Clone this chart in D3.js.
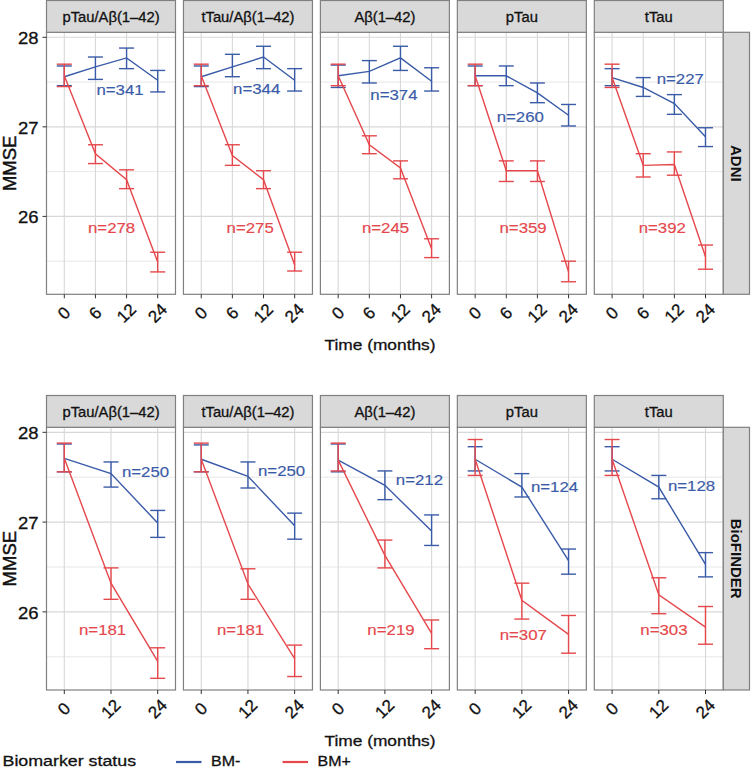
<!DOCTYPE html>
<html>
<head>
<meta charset="utf-8">
<script src="https://cdn.jsdelivr.net/npm/d3@7"></script>
<style>
  html, body { margin: 0; padding: 0; background: #fff; }
  svg { display: block; font-family: "Liberation Sans", Arial, Helvetica, sans-serif; }
</style>
</head>
<body>
<svg id="chart" width="751" height="776"></svg>
<script>
// ---------------- DATA ----------------
const biomarkers = ["pTau/Aβ(1–42)", "tTau/Aβ(1–42)", "Aβ(1–42)", "pTau", "tTau"];
const cohorts = ["ADNI", "BioFINDER"];
const timesADNI = ["0", "6", "12", "24"];
const timesBF = ["0", "12", "24"];
const statusLabels = ["BM-", "BM+"];
const yTicks = [26, 27, 28];
const yMinor = [25.5, 26.5, 27.5];

// ADNI, BM- (mean, lower, upper) per biomarker
const adniNegMean = [[27.56,27.67,27.77,27.52],[27.56,27.67,27.78,27.52],[27.57,27.62,27.77,27.51],[27.57,27.57,27.38,27.13],[27.55,27.44,27.26,26.89]];
const adniNegLo   = [[27.46,27.53,27.65,27.39],[27.45,27.56,27.65,27.40],[27.44,27.49,27.63,27.40],[27.46,27.46,27.27,27.01],[27.46,27.34,27.14,26.78]];
const adniNegHi   = [[27.68,27.78,27.88,27.63],[27.68,27.81,27.90,27.65],[27.69,27.74,27.90,27.66],[27.68,27.68,27.49,27.25],[27.65,27.55,27.36,26.99]];
// ADNI, BM+
const adniPosMean = [[27.57,26.70,26.41,25.49],[27.57,26.68,26.41,25.46],[27.57,26.80,26.54,25.64],[27.57,26.51,26.51,25.38],[27.55,26.57,26.58,25.55]];
const adniPosLo   = [[27.45,26.59,26.31,25.38],[27.46,26.57,26.31,25.39],[27.46,26.70,26.42,25.54],[27.46,26.39,26.39,25.27],[27.44,26.44,26.46,25.41]];
const adniPosHi   = [[27.70,26.80,26.52,25.60],[27.70,26.80,26.51,25.60],[27.70,26.90,26.62,25.75],[27.70,26.62,26.62,25.50],[27.70,26.70,26.72,25.68]];
// BioFINDER, BM-
const bfNegMean = [[27.71,27.54,26.99],[27.70,27.51,26.96],[27.69,27.41,26.90],[27.70,27.39,26.57],[27.70,27.39,26.53]];
const bfNegLo   = [[27.56,27.39,26.83],[27.56,27.38,26.81],[27.56,27.25,26.74],[27.57,27.28,26.42],[27.57,27.26,26.39]];
const bfNegHi   = [[27.87,27.67,27.13],[27.86,27.67,27.10],[27.87,27.57,27.08],[27.84,27.54,26.70],[27.84,27.52,26.66]];
// BioFINDER, BM+
const bfPosMean = [[27.71,26.32,25.45],[27.70,26.31,25.48],[27.69,26.63,25.76],[27.70,26.13,25.75],[27.70,26.19,25.83]];
const bfPosLo   = [[27.56,26.14,25.26],[27.56,26.14,25.28],[27.57,26.49,25.59],[27.52,25.92,25.54],[27.52,25.98,25.64]];
const bfPosHi   = [[27.88,26.49,25.60],[27.88,26.48,25.63],[27.88,26.80,25.91],[27.92,26.32,25.96],[27.92,26.38,26.06]];

// Sample sizes
const adniNegN = [341, 344, 374, 260, 227];
const adniPosN = [278, 275, 245, 359, 392];
const bfNegN = [250, 250, 212, 124, 128];
const bfPosN = [181, 181, 219, 307, 303];
// Annotation anchors (time index, MMSE value)
const adniNegLab = [[1.79,27.41],[1.78,27.42],[1.79,27.36],[1.45,27.11],[2.19,27.54]];
const adniPosLab = [[1.52,25.87],[1.57,25.87],[1.52,25.87],[1.54,25.87],[1.61,25.87]];
const bfNegLab = [[1.74,27.56],[1.72,27.57],[1.74,27.47],[1.70,27.39],[1.70,27.40]];
const bfPosLab = [[0.82,25.80],[0.84,25.80],[1.13,25.80],[1.03,25.74],[1.11,25.80]];

// ---------------- STYLE / LAYOUT ----------------
const colors = { neg: "#3a5ba8", pos: "#e5484c" };
const textCol = "#111111";
const borderCol = "#808080";
const L = { left0: 46.5, step: 136.95, pw: 129, pad: 17.8,
            rows: [{ stripTop: 0.5, top: 32.3, bottom: 294.3 }, { stripTop: 395.5, top: 427.3, bottom: 690 }],
            rStripX: 723.3, rStripW: 26.2 };

const svg = d3.select("#chart");

function txt(g, str, x, y, o) {
  o = o || {};
  const sx = o.sx || 1, rot = o.rot || 0;
  const fill = o.fill || textCol;
  return g.append("text")
    .attr("transform", `translate(${x},${y}) rotate(${rot}) scale(${sx},1)`)
    .attr("text-anchor", o.anchor || "middle")
    .attr("dominant-baseline", o.baseline || "central")
    .attr("font-size", o.size || 14)
    .attr("font-weight", o.weight || "normal")
    .attr("fill", fill)
    .attr("stroke", fill)
    .attr("stroke-width", o.sw == null ? 0.3 : o.sw)
    .text(str);
}

const rowData = [
  { cohort: cohorts[0], times: timesADNI,
    series: [ { key: "neg", mean: adniNegMean, lo: adniNegLo, hi: adniNegHi, n: adniNegN, lab: adniNegLab },
              { key: "pos", mean: adniPosMean, lo: adniPosLo, hi: adniPosHi, n: adniPosN, lab: adniPosLab } ] },
  { cohort: cohorts[1], times: timesBF,
    series: [ { key: "neg", mean: bfNegMean, lo: bfNegLo, hi: bfNegHi, n: bfNegN, lab: bfNegLab },
              { key: "pos", mean: bfPosMean, lo: bfPosLo, hi: bfPosHi, n: bfPosN, lab: bfPosLab } ] }
];

rowData.forEach((row, ri) => {
  const R = L.rows[ri];
  const y = d3.scaleLinear().domain([25.13, 28.056]).range([R.bottom, R.top]);

  biomarkers.forEach((bm, pi) => {
    const x0 = L.left0 + pi * L.step, x1 = x0 + L.pw;
    const x = d3.scalePoint().domain(row.times).range([x0 + L.pad, x1 - L.pad]);
    const xi = d3.scaleLinear().domain([0, row.times.length - 1]).range([x0 + L.pad, x1 - L.pad]);
    const g = svg.append("g");

    g.append("rect").attr("x", x0).attr("y", R.top).attr("width", L.pw).attr("height", R.bottom - R.top).attr("fill", "#fff");
    g.selectAll(".ymin").data(yMinor).join("line")
      .attr("x1", x0).attr("x2", x1).attr("y1", d => y(d)).attr("y2", d => y(d))
      .attr("stroke", "#e2e2e2").attr("stroke-width", 0.8);
    g.selectAll(".ymaj").data(yTicks).join("line")
      .attr("x1", x0).attr("x2", x1).attr("y1", d => y(d)).attr("y2", d => y(d))
      .attr("stroke", "#d8d8d8").attr("stroke-width", 1.1);
    g.selectAll(".xmaj").data(row.times).join("line")
      .attr("x1", d => x(d)).attr("x2", d => x(d)).attr("y1", R.top).attr("y2", R.bottom)
      .attr("stroke", "#d8d8d8").attr("stroke-width", 1.1);

    row.series.forEach(s => {
      const col = colors[s.key];
      const pts = row.times.map((t, i) => ({ t, m: s.mean[pi][i], lo: s.lo[pi][i], hi: s.hi[pi][i] }));
      g.append("path").datum(pts)
        .attr("d", d3.line().x(d => x(d.t)).y(d => y(d.m)))
        .attr("fill", "none").attr("stroke", col).attr("stroke-width", 1.4);
      const eb = g.append("g").attr("stroke", col).attr("stroke-width", 1.4).attr("fill", "none");
      eb.selectAll(".v").data(pts).join("line")
        .attr("x1", d => x(d.t)).attr("x2", d => x(d.t)).attr("y1", d => y(d.lo)).attr("y2", d => y(d.hi));
      eb.selectAll(".c1").data(pts).join("line")
        .attr("x1", d => x(d.t) - 7.5).attr("x2", d => x(d.t) + 7.5).attr("y1", d => y(d.lo)).attr("y2", d => y(d.lo));
      eb.selectAll(".c2").data(pts).join("line")
        .attr("x1", d => x(d.t) - 7.5).attr("x2", d => x(d.t) + 7.5).attr("y1", d => y(d.hi)).attr("y2", d => y(d.hi));
      const lab = s.lab[pi];
      txt(g, "n=" + s.n[pi], xi(lab[0]), y(lab[1]), { size: 14.5, sx: 1.16, fill: col, sw: 0.15 });
    });

    g.append("rect").attr("x", x0).attr("y", R.top).attr("width", L.pw).attr("height", R.bottom - R.top)
      .attr("fill", "none").attr("stroke", borderCol).attr("stroke-width", 1.2);
    g.append("rect").attr("x", x0).attr("y", R.stripTop).attr("width", L.pw).attr("height", R.top - R.stripTop)
      .attr("fill", "#d9d9d9").attr("stroke", borderCol).attr("stroke-width", 1.2);
    txt(g, bm, (x0 + x1) / 2, (R.stripTop + R.top) / 2 + 1, { size: 14.5, sx: 1.02 });

    g.selectAll(".xt").data(row.times).join("line")
      .attr("x1", d => x(d)).attr("x2", d => x(d)).attr("y1", R.bottom).attr("y2", R.bottom + 4)
      .attr("stroke", "#333").attr("stroke-width", 1);
    row.times.forEach(t => txt(g, t, x(t), R.bottom + 19, { size: 17, rot: -45 }));

    if (pi === 0) {
      g.selectAll(".yt").data(yTicks).join("line")
        .attr("x1", x0 - 4).attr("x2", x0).attr("y1", d => y(d)).attr("y2", d => y(d))
        .attr("stroke", "#333").attr("stroke-width", 1);
      yTicks.forEach(v => txt(g, String(v), x0 - 8, y(v) + 1, { size: 16.5, sx: 1.12, anchor: "end" }));
    }
  });

  svg.append("rect").attr("x", L.rStripX).attr("y", R.top).attr("width", L.rStripW).attr("height", R.bottom - R.top)
    .attr("fill", "#d9d9d9").attr("stroke", borderCol).attr("stroke-width", 1.2);
  txt(svg, row.cohort, L.rStripX + L.rStripW / 2 + 0.5, (R.top + R.bottom) / 2, { size: 15, weight: "bold", rot: 90, sw: 0 });

  txt(svg, "Time (months)", 380, R.bottom + 55.5, { size: 15.5, sx: 1.12, baseline: "alphabetic" });
  txt(svg, "MMSE", 9, (R.top + R.bottom) / 2, { size: 18.5, rot: -90, sw: 0.45 });
});

const lg = svg.append("g");
txt(lg, "Biomarker status", 2.5, 765.5, { size: 15.5, sx: 1.15, anchor: "start", baseline: "alphabetic" });
const legItems = [{ key: "neg", label: statusLabels[0], x: 176 }, { key: "pos", label: statusLabels[1], x: 282.5 }];
legItems.forEach(it => {
  lg.append("line").attr("x1", it.x).attr("x2", it.x + 25.5).attr("y1", 762).attr("y2", 762)
    .attr("stroke", colors[it.key]).attr("stroke-width", 2.2);
  txt(lg, it.label, it.x + 35, 765.5, { size: 14.5, sx: 1.1, anchor: "start", baseline: "alphabetic" });
});
</script>
</body>
</html>
